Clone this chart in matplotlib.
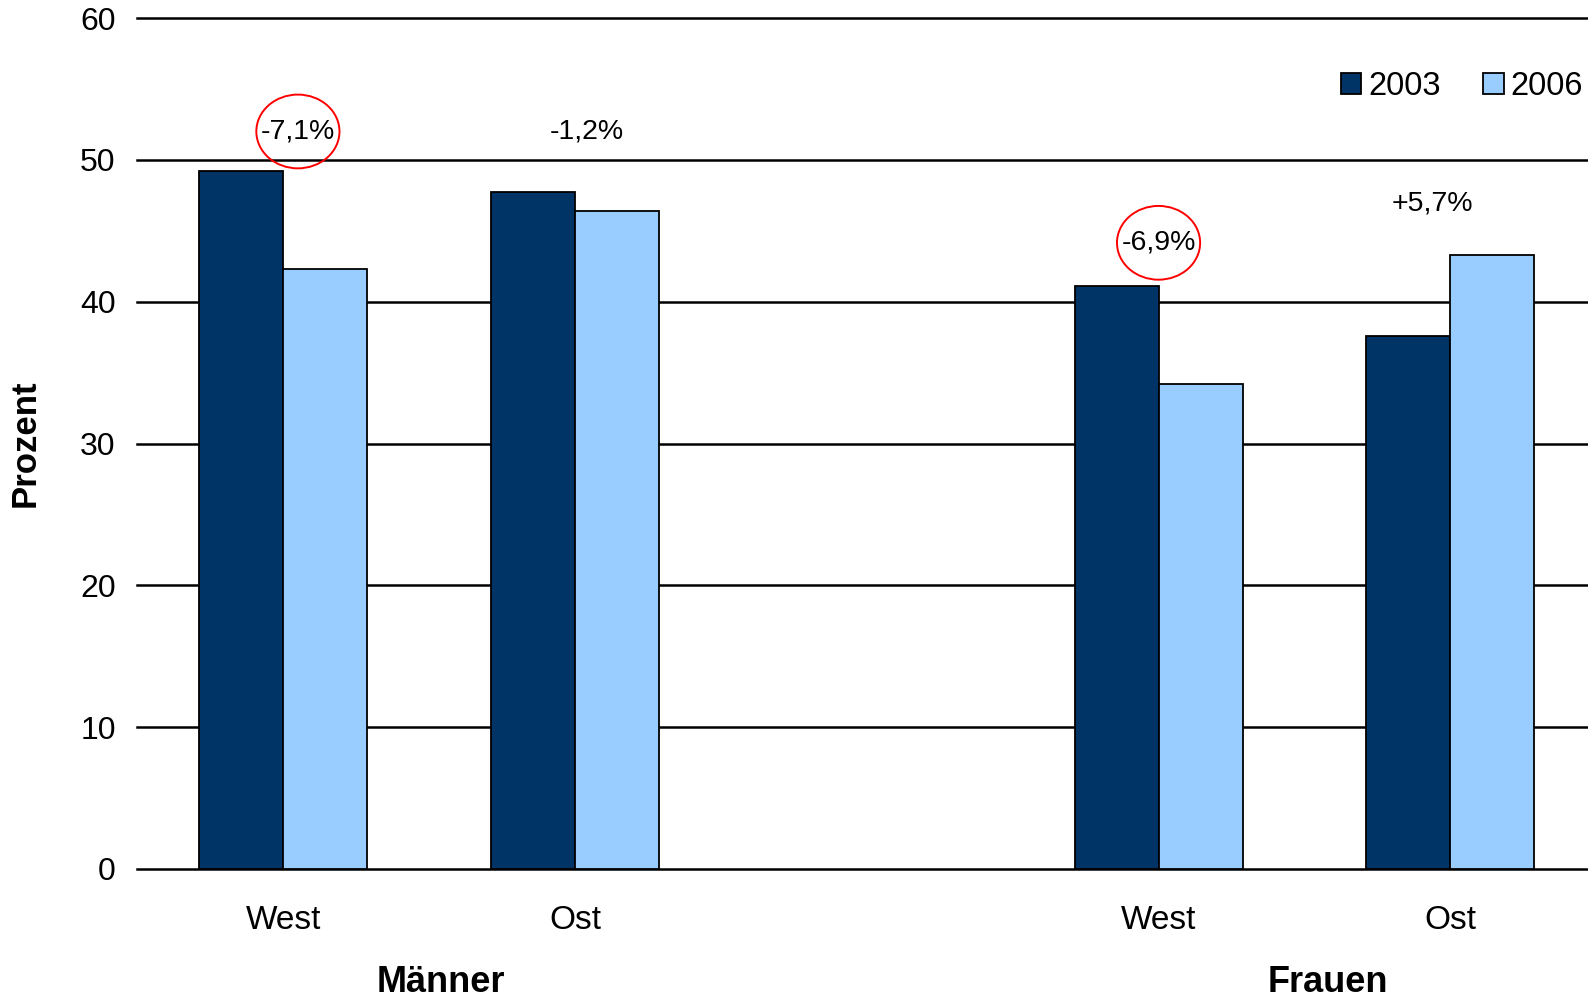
import matplotlib.pyplot as plt
from matplotlib.patches import Ellipse
from matplotlib.transforms import blended_transform_factory
import numpy as np

plt.rcParams.update({
    "font.family": ["Liberation Sans", "DejaVu Sans"],
    "font.size": 23,
})

# Anteile in Prozent, je Gruppe West / Ost
regionen = ["West", "Ost", "", "West", "Ost"]
gruppen = ["Männer", "Frauen"]
werte_2003 = [49.2, 47.7, np.nan, 41.1, 37.6]
werte_2006 = [42.3, 46.4, np.nan, 34.2, 43.3]
aenderung = ["-7,1%", "-1,2%", None, "-6,9%", "+5,7%"]
markiert = [True, False, False, True, False]
jahre = ["2003", "2006"]

DUNKEL = "#003366"
HELL = "#99CCFF"

fig = plt.figure(figsize=(15.88, 10), dpi=100)
ax = fig.add_axes([0.086, 0.131, 0.914, 0.851])

x = np.arange(len(regionen))
breite = 0.288
ax.bar(x - breite / 2, werte_2003, breite, color=DUNKEL, edgecolor="black",
       linewidth=1.3, label=jahre[0], zorder=3)
ax.bar(x + breite / 2, werte_2006, breite, color=HELL, edgecolor="black",
       linewidth=1.3, label=jahre[1], zorder=3)

# Beschriftung der Veränderung über jedem Paar
label_pos = [(0.05, 52.0), (1.04, 52.0), None, (3.0, 44.15), (3.94, 46.9)]
for txt, pos, kreis in zip(aenderung, label_pos, markiert):
    if txt is None:
        continue
    ax.text(pos[0], pos[1], txt, ha="center", va="center", fontsize=20.5, zorder=5)
    if kreis:
        ax.add_patch(Ellipse(pos, width=0.285, height=5.2, fill=False,
                             edgecolor="red", linewidth=1.4, zorder=5))

ax.set_ylim(0, 60)
ax.set_xlim(-0.503, 4.472)
ax.set_yticks(range(0, 61, 10))
ax.yaxis.grid(True, color="black", linewidth=1.8, zorder=1)
ax.set_axisbelow(True)
for line in ax.get_ygridlines():
    line.set_clip_on(False)
for s in ax.spines.values():
    s.set_visible(False)
ax.tick_params(axis="y", length=0, pad=15, labelsize=23)
ax.set_xticks(x)
ax.set_xticklabels(regionen)
ax.tick_params(axis="x", length=0, pad=26, labelsize=24)

ax.set_ylabel("Prozent", fontsize=25, fontweight="bold", labelpad=28)

trans = blended_transform_factory(ax.transData, ax.transAxes)
for gx, name in zip([0.54, 3.58], gruppen):
    ax.text(gx, -0.133, name, transform=trans, ha="center", va="center",
            fontsize=26, fontweight="bold")

ax.legend(loc="center right", bbox_to_anchor=(0.9967, 0.920), ncol=2, frameon=False,
          fontsize=23.5, handlelength=0.62, handleheight=0.62, handletextpad=0.22,
          columnspacing=1.3, borderpad=0, borderaxespad=0)

fig.savefig("out.png", dpi=100)
